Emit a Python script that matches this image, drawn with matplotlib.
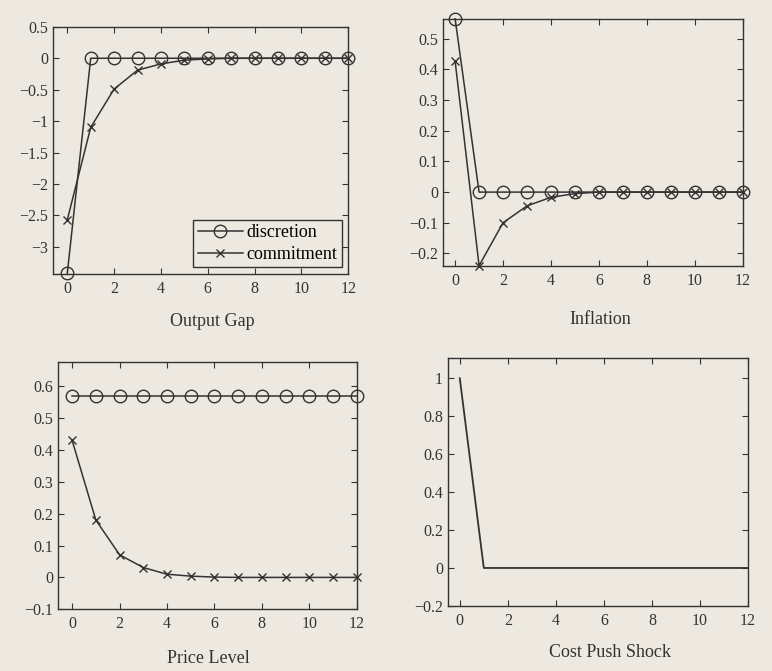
import numpy as np
import matplotlib.pyplot as plt

plt.rcParams['font.family'] = ['Liberation Serif', 'DejaVu Serif']

periods = np.arange(0, 13)

# output gap
gap_disc = [-3.42, 0, 0, 0, 0, 0, 0, 0, 0, 0, 0, 0, 0]
gap_comm = [-2.57, -1.1, -0.49, -0.19, -0.09, -0.03, -0.01, 0, 0, 0, 0, 0, 0]

# inflation
inf_disc = [0.565, 0, 0, 0, 0, 0, 0, 0, 0, 0, 0, 0, 0]
inf_comm = [0.427, -0.24, -0.10, -0.045, -0.017, -0.005, 0, 0, 0, 0, 0, 0, 0]

# price level
pl_disc = [0.57] * 13
pl_comm = [0.43, 0.18, 0.071, 0.031, 0.01, 0.004, 0.001, 0, 0, 0, 0, 0, 0]

# cost push shock
shock = [1, 0, 0, 0, 0, 0, 0, 0, 0, 0, 0, 0, 0]

bg = '#ede9e0'
ink = '#333333'

fig = plt.figure(figsize=(7.72, 6.71), dpi=100, facecolor=bg)

def setup(ax, ylim, yticks, yticklabels, xlim=(-0.55, 12)):
    ax.set_facecolor(bg)
    ax.set_xlim(*xlim)
    ax.set_ylim(*ylim)
    ax.set_xticks(range(0, 13, 2))
    ax.set_yticks(yticks)
    ax.set_yticklabels(yticklabels)
    ax.tick_params(direction='in', top=True, right=True, labelsize=11.5,
                   colors=ink, length=4, width=0.8)
    ax.tick_params(axis='x', pad=5)
    for s in ax.spines.values():
        s.set_color(ink)
        s.set_linewidth(1.0)

# Output gap
ax1 = fig.add_axes([0.069, 0.592, 0.382, 0.368])
ax1.plot(periods, gap_disc, '-o', color=ink, mfc='none', ms=9, lw=1.1, label='discretion', clip_on=False)
ax1.plot(periods, gap_comm, '-x', color=ink, ms=6, lw=1.1, label='commitment', clip_on=False)
yt = [0.5, 0, -0.5, -1, -1.5, -2, -2.5, -3]
setup(ax1, (-3.43, 0.5), yt, ['0.5', '0', '\u22120.5', '\u22121', '\u22121.5', '\u22122', '\u22122.5', '\u22123'], (-0.6, 12))
ax1.legend(loc='lower right', fontsize=13, frameon=True, fancybox=False,
           edgecolor=ink, facecolor=bg, framealpha=1, handlelength=2.5,
           borderpad=0.25, labelspacing=0.25, handletextpad=0.2, borderaxespad=0.35)
fig.text(0.275, 0.521, 'Output Gap', ha='center', va='center', fontsize=13, color=ink)

# Inflation
ax2 = fig.add_axes([0.574, 0.604, 0.388, 0.368])
ax2.plot(periods, inf_disc, '-o', color=ink, mfc='none', ms=9, lw=1.1, clip_on=False)
ax2.plot(periods, inf_comm, '-x', color=ink, ms=6, lw=1.1, clip_on=False)
yt = [0.5, 0.4, 0.3, 0.2, 0.1, 0, -0.1, -0.2]
setup(ax2, (-0.24, 0.565), yt, ['0.5', '0.4', '0.3', '0.2', '0.1', '0', '\u22120.1', '\u22120.2'], (-0.5, 12))
fig.text(0.777, 0.524, 'Inflation', ha='center', va='center', fontsize=13, color=ink)

# Price level
ax3 = fig.add_axes([0.075, 0.092, 0.387, 0.368])
ax3.plot(periods, pl_disc, '-o', color=ink, mfc='none', ms=9, lw=1.1, clip_on=False)
ax3.plot(periods, pl_comm, '-x', color=ink, ms=6, lw=1.1, clip_on=False)
yt = [0.6, 0.5, 0.4, 0.3, 0.2, 0.1, 0, -0.1]
setup(ax3, (-0.1, 0.675), yt, ['0.6', '0.5', '0.4', '0.3', '0.2', '0.1', '0', '\u22120.1'], (-0.6, 12))
fig.text(0.27, 0.019, 'Price Level', ha='center', va='center', fontsize=13, color=ink)

# Cost push shock
ax4 = fig.add_axes([0.580, 0.097, 0.389, 0.369])
ax4.plot(periods, shock, '-', color=ink, lw=1.3)
yt = [1, 0.8, 0.6, 0.4, 0.2, 0, -0.2]
setup(ax4, (-0.2, 1.105), yt, ['1', '0.8', '0.6', '0.4', '0.2', '0', '\u22120.2'], (-0.5, 12))
fig.text(0.79, 0.027, 'Cost Push Shock', ha='center', va='center', fontsize=13, color=ink)

fig.savefig('out.png', dpi=100, facecolor=bg)
